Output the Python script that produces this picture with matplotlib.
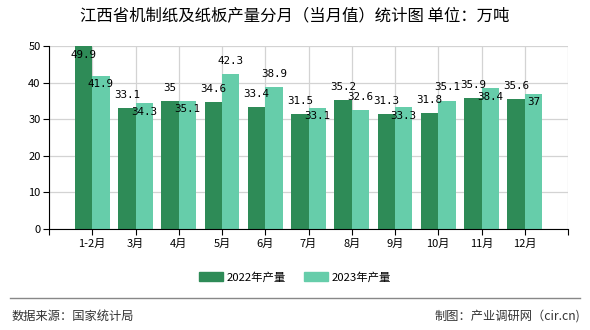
import numpy as np
import matplotlib
matplotlib.use("Agg")
import matplotlib.pyplot as plt
from matplotlib.patches import Patch

plt.rcParams['font.family'] = ['Noto Sans CJK SC', 'DejaVu Sans']

months = ["1-2月", "3月", "4月", "5月", "6月", "7月", "8月", "9月", "10月", "11月", "12月"]
prod_2022 = [49.9, 33.1, 35, 34.6, 33.4, 31.5, 35.2, 31.3, 31.8, 35.9, 35.6]
prod_2023 = [41.9, 34.3, 35.1, 42.3, 38.9, 33.1, 32.6, 33.3, 35.1, 38.4, 37]
labels_2022 = ["49.9", "33.1", "35", "34.6", "33.4", "31.5", "35.2", "31.3", "31.8", "35.9", "35.6"]
labels_2023 = ["41.9", "34.3", "35.1", "42.3", "38.9", "33.1", "32.6", "33.3", "35.1", "38.4", "37"]

# label sits above (True) or just under (False) the bar top, as in the original
above_2022 = [False] + [True] * 10
above_2023 = [False, False, False, True, True, False, True, False, True, False, False]

c22 = "#2E8B57"
c23 = "#66CDAA"
ymax = 50

fig = plt.figure(figsize=(5.9, 3.3), dpi=100)
ax = fig.add_axes([49 / 590, 1 - 229 / 330, 519 / 590, 183 / 330])

x = np.arange(len(months))
w = 0.4
ax.bar(x - w / 2, prod_2022, w, color=c22, zorder=2)
ax.bar(x + w / 2, prod_2023, w, color=c23, zorder=2)

for xs, vals, labs, above in [(x - w / 2, prod_2022, labels_2022, above_2022),
                              (x + w / 2, prod_2023, labels_2023, above_2023)]:
    for xi, v, lab, up in zip(xs, vals, labs, above):
        dy = 9.4 if up else -6.2
        ax.annotate(lab, (xi, min(v, ymax)), xytext=(0, dy), textcoords="offset points",
                    ha="center", va="center", family="DejaVu Sans Mono", fontsize=7.8, zorder=3)

ax.set_xlim(-1, len(months))
ax.set_ylim(0, ymax)
ax.set_xticks(np.arange(-1, len(months) + 1))
ax.set_xticklabels([""] + months + [""], fontsize=8)
ax.set_yticks(np.arange(0, 51, 10))
ax.tick_params(axis='y', labelsize=8, length=4, width=0.8, pad=2)
ax.tick_params(axis='x', length=4, width=0.8, pad=3)
ax.grid(True, color="#D3D3D3", linewidth=0.9, zorder=0)
ax.set_axisbelow(True)
for s in ["top", "right"]:
    ax.spines[s].set_visible(False)
ax.spines["left"].set_color("black")
ax.spines["bottom"].set_color("black")

fig.text(0.5, 1 - 16 / 330, "江西省机制纸及纸板产量分月（当月值）统计图 单位：万吨",
         ha="center", va="center", fontsize=11.8)

handles = [Patch(color=c22, label="2022年产量"), Patch(color=c23, label="2023年产量")]
fig.legend(handles=handles, loc="center", bbox_to_anchor=(0.5, 1 - 277 / 330), ncol=2,
           frameon=False, fontsize=8.2, handlelength=2.1, handleheight=0.9, columnspacing=1.6,
           handletextpad=0.3)

fig.add_artist(plt.Line2D([10 / 590, 580 / 590], [1 - 298 / 330] * 2, color="#888888", linewidth=1))
fig.text(12 / 590, 1 - 316 / 330, "数据来源：国家统计局", ha="left", va="center", fontsize=8.8, color="#333333")
fig.text(580 / 590, 1 - 316 / 330, "制图：产业调研网（cir.cn)", ha="right", va="center", fontsize=8.8, color="#333333")

fig.savefig("out.png", dpi=100)
